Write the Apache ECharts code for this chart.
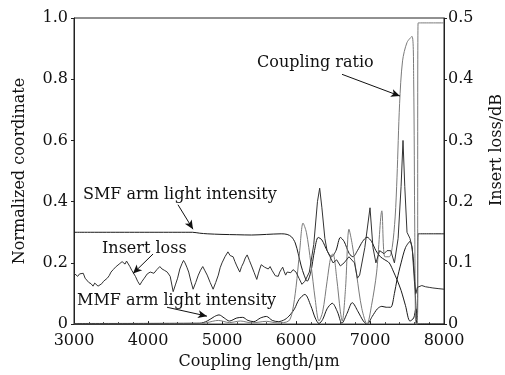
<!DOCTYPE html>
<html><head><meta charset="utf-8">
<script src="https://cdn.jsdelivr.net/npm/echarts@6/dist/echarts.min.js"></script>
<style>html,body{margin:0;padding:0;background:#fff}#c{width:505px;height:375px}</style>
</head><body><div id="c"></div>
<script>
// Tick labels
const xTicks = [3000, 4000, 5000, 6000, 7000, 8000];
const leftTicks = [0, 0.2, 0.4, 0.6, 0.8, 1.0];
const rightTicks = [0, 0.1, 0.2, 0.3, 0.4, 0.5];

// SMF arm light intensity (normalized)
const smf = [[3000,0.300],[4600,0.300],[4700,0.297],[4800,0.295],[5000,0.293],[5200,0.292],[5400,0.291],[5600,0.293],[5800,0.295],[5880,0.293],[5940,0.285],[5990,0.265],[6030,0.23],[6070,0.19],[6110,0.16],[6150,0.14],[6200,0.17],[6250,0.24],[6300,0.283],[6350,0.275],[6420,0.24],[6480,0.22],[6540,0.24],[6600,0.283],[6650,0.27],[6720,0.23],[6770,0.22],[6830,0.24],[6900,0.27],[6960,0.284],[7020,0.27],[7080,0.24],[7140,0.22],[7200,0.21],[7260,0.2],[7320,0.17],[7365,0.145],[7420,0.11],[7480,0.06],[7540,0.01],[7590,0.02],[7620,0.05],[7640,0.02],[7650,0.295],[8000,0.295]];

// MMF arm light intensity (normalized)
const mmf = [[3000,0.002],[4700,0.003],[4800,0.01],[4900,0.025],[4960,0.03],[5030,0.02],[5100,0.01],[5200,0.02],[5280,0.022],[5350,0.012],[5430,0.008],[5520,0.02],[5600,0.025],[5680,0.012],[5760,0.008],[5850,0.015],[5920,0.03],[5980,0.05],[6040,0.08],[6120,0.097],[6200,0.06],[6260,0.02],[6310,0.002],[6360,0.015],[6420,0.05],[6490,0.068],[6560,0.04],[6620,0.003],[6690,0.035],[6760,0.07],[6840,0.04],[6910,0.01],[6960,0.0],[7030,0.025],[7100,0.05],[7160,0.058],[7220,0.055],[7280,0.055],[7330,0.1],[7365,0.145],[7420,0.2],[7480,0.25],[7540,0.27],[7590,0.2],[7620,0.06],[7640,0.0],[8000,0.0]];

// Coupling ratio
const ratio = [[3000,0.0],[4700,0.0],[4800,0.005],[4950,0.012],[5100,0.005],[5250,0.01],[5400,0.004],[5600,0.009],[5750,0.004],[5900,0.01],[5950,0.04],[6000,0.12],[6050,0.24],[6095,0.33],[6140,0.3],[6200,0.2],[6260,0.08],[6310,0.01],[6360,0.04],[6420,0.14],[6470,0.22],[6500,0.23],[6550,0.15],[6600,0.04],[6625,0.01],[6670,0.12],[6716,0.31],[6760,0.26],[6820,0.16],[6890,0.05],[6960,0.0],[7020,0.06],[7090,0.17],[7160,0.37],[7200,0.22],[7260,0.22],[7300,0.25],[7340,0.35],[7365,0.48],[7400,0.72],[7440,0.86],[7500,0.92],[7568,0.94],[7590,0.8],[7605,0.3],[7620,0.0],[7640,0.0],[7650,0.984],[8000,0.984]];

// Insert loss (dB)
const insertLoss = [[3000,0.083],[3025,0.086],[3050,0.078],[3075,0.082],[3100,0.080],[3125,0.083],[3150,0.075],[3175,0.072],[3200,0.068],[3230,0.066],[3257,0.062],[3280,0.067],[3300,0.064],[3325,0.062],[3350,0.060],[3375,0.066],[3400,0.070],[3425,0.068],[3450,0.075],[3475,0.079],[3500,0.085],[3530,0.089],[3560,0.093],[3585,0.091],[3610,0.098],[3630,0.096],[3650,0.102],[3670,0.099],[3690,0.098],[3710,0.103],[3730,0.100],[3755,0.094],[3780,0.088],[3805,0.083],[3830,0.078],[3860,0.070],[3890,0.064],[3920,0.070],[3950,0.075],[3990,0.082],[4030,0.085],[4055,0.088],[4080,0.083],[4120,0.089],[4160,0.094],[4190,0.090],[4220,0.088],[4240,0.091],[4260,0.085],[4300,0.078],[4340,0.053],[4370,0.064],[4400,0.075],[4430,0.090],[4460,0.099],[4480,0.104],[4500,0.100],[4525,0.093],[4550,0.085],[4580,0.070],[4610,0.057],[4645,0.068],[4680,0.080],[4710,0.088],[4740,0.094],[4770,0.087],[4800,0.080],[4840,0.068],[4880,0.057],[4915,0.068],[4950,0.080],[4975,0.092],[5000,0.100],[5040,0.110],[5080,0.118],[5110,0.112],[5150,0.110],[5175,0.102],[5200,0.095],[5240,0.085],[5265,0.094],[5290,0.100],[5315,0.108],[5340,0.113],[5370,0.104],[5400,0.095],[5435,0.084],[5470,0.073],[5490,0.082],[5510,0.090],[5530,0.097],[5550,0.100],[5575,0.093],[5600,0.095],[5625,0.090],[5650,0.094],[5675,0.088],[5700,0.085],[5720,0.079],[5740,0.080],[5760,0.078],[5780,0.085],[5800,0.089],[5820,0.093],[5840,0.086],[5860,0.080],[5880,0.085],[5900,0.088],[5930,0.084],[5960,0.089],[6000,0.085],[6040,0.075],[6080,0.065],[6120,0.070],[6180,0.085],[6240,0.130],[6290,0.200],[6320,0.222],[6350,0.190],[6390,0.140],[6420,0.120],[6460,0.110],[6500,0.100],[6550,0.105],[6600,0.095],[6650,0.100],[6716,0.110],[6790,0.100],[6830,0.075],[6860,0.080],[6930,0.125],[7000,0.190],[7040,0.125],[7080,0.100],[7130,0.120],[7190,0.115],[7230,0.120],[7280,0.120],[7330,0.100],[7380,0.140],[7420,0.225],[7446,0.300],[7470,0.225],[7500,0.150],[7540,0.140],[7570,0.125],[7600,0.070],[7620,0.050],[7640,0.060],[7660,0.062],[7700,0.063],[7750,0.061],[7800,0.060],[7850,0.059],[7920,0.058],[8000,0.057]];

// Annotation arrows (data coordinates, left axis): [from, to]
const arrows = [
  [[6622,0.816],[7405,0.745]],
  [[4405,0.39],[4608,0.31]],
  [[4068,0.229],[3797,0.165]],
  [[4257,0.055],[4797,0.026]]
];

const FONT = 'DejaVu Serif';
const fmt = v => v === 0 ? '0' : v.toFixed(1);
const chart = echarts.init(document.getElementById('c'), null, {renderer:'canvas'});
const lineSeries = (name, data, color, yIdx, smooth) => ({
  name, type:'line', data, yAxisIndex:yIdx, showSymbol:false, symbol:'none',
  smooth, lineStyle:{color, width:1}, itemStyle:{color}, animation:false, z:3
});
const annText = (txt, left, cy) => ({
  type:'text', left, top: cy - 9,
  style:{text:txt, font:'16px "' + FONT + '"', fill:'#111'}
});

chart.setOption({
  animation:false,
  backgroundColor:'#fff',
  grid:{left:74, right:61, top:18, bottom:47, show:true, borderColor:'#222', borderWidth:1},
  xAxis:{
    type:'value', min:3000, max:8000, interval:1000,
    name:'Coupling length/μm', nameLocation:'middle', nameGap:29,
    nameTextStyle:{fontFamily:FONT, fontSize:16, color:'#111'},
    axisLine:{show:true, lineStyle:{color:'#222', width:1}},
    axisTick:{show:true, inside:true, length:3, lineStyle:{color:'#222'}},
    minorTick:{show:true, splitNumber:5, length:2, lineStyle:{color:'#444'}},
    splitLine:{show:false},
    axisLabel:{fontFamily:FONT, fontSize:16, color:'#111', margin:9,
      formatter: v => xTicks.includes(v) ? String(v) : ''}
  },
  yAxis:[{
    type:'value', min:0, max:1.0, interval:0.2, position:'left',
    name:'Normalized coordinate', nameLocation:'middle', nameGap:46, nameRotate:90,
    nameTextStyle:{fontFamily:FONT, fontSize:16, color:'#111'},
    axisLine:{show:true, lineStyle:{color:'#222', width:1}},
    axisTick:{show:true, inside:false, length:3, lineStyle:{color:'#222'}},
    splitLine:{show:false},
    axisLabel:{fontFamily:FONT, fontSize:16, color:'#111', margin:6,
      formatter: v => leftTicks.some(t => Math.abs(t - v) < 1e-9) ? fmt(v) : ''}
  },{
    type:'value', min:0, max:0.5, interval:0.1, position:'right',
    axisLine:{show:true, lineStyle:{color:'#222', width:1}},
    axisTick:{show:true, inside:false, length:3, lineStyle:{color:'#222'}},
    splitLine:{show:false},
    axisLabel:{fontFamily:FONT, fontSize:16, color:'#111', margin:4,
      formatter: v => rightTicks.some(t => Math.abs(t - v) < 1e-9) ? fmt(v) : ''}
  }],
  series:[
    lineSeries('SMF arm light intensity', smf, '#1a1a1a', 0, 0.3),
    lineSeries('MMF arm light intensity', mmf, '#1a1a1a', 0, 0.3),
    Object.assign(lineSeries('Coupling ratio', ratio, '#7a7a7a', 0, 0.3), {
      markLine:{
        silent:true, symbol:['none','arrow'], symbolSize:[6,9], animation:false,
        label:{show:false},
        lineStyle:{color:'#111', width:1, type:'solid'},
        data: arrows.map(a => [{coord:a[0]}, {coord:a[1]}])
      }
    }),
    lineSeries('Insert loss', insertLoss, '#333', 1, false)
  ],
  graphic:[
    annText('Coupling ratio', 257, 64),
    annText('SMF arm light intensity', 83, 196),
    annText('Insert loss', 102, 250),
    annText('MMF arm light intensity', 77, 302),
    {type:'text', x:497, y:150, rotation:Math.PI/2,
     style:{text:'Insert loss/dB', font:'16px "' + FONT + '"', fill:'#111',
            textAlign:'center', textVerticalAlign:'middle'}}
  ]
});
</script></body></html>
